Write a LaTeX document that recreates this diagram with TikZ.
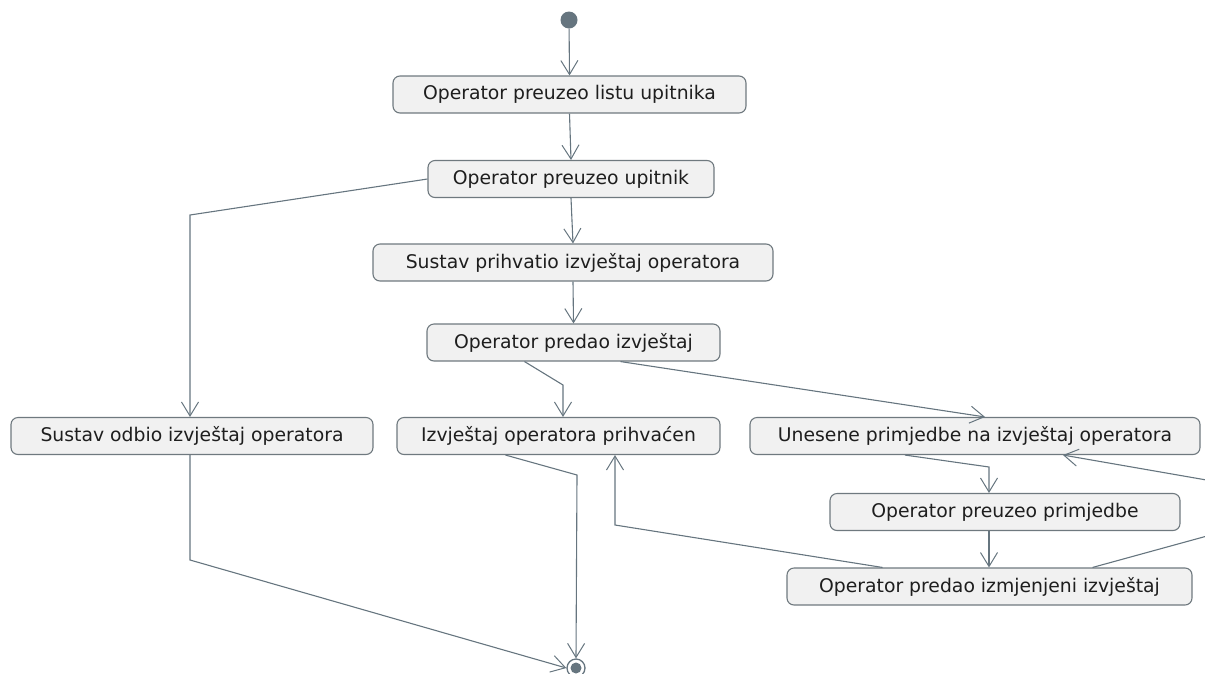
\documentclass[tikz,border=0pt]{standalone}
\usepackage{fontspec}
\setmainfont{DejaVu Sans}
\usetikzlibrary{arrows.meta}
\definecolor{edgecol}{HTML}{66757F}
\definecolor{boxfill}{HTML}{F1F1F1}
\definecolor{boxline}{HTML}{6F797F}
\definecolor{txt}{HTML}{1E1E1E}
\tikzset{
  act/.style={draw=boxline, fill=boxfill, line width=1.1pt, rounded corners=7pt,
    minimum height=37pt, inner sep=0pt, font=\fontsize{18.8}{20}\selectfont, text=txt},
  flow/.style={draw=edgecol, line width=1.1pt, -{Straight Barb[length=14pt,width=17pt,line width=1pt]}},
}
\begin{document}
\begin{tikzpicture}[x=1pt,y=-1pt]
\useasboundingbox (0,0) rectangle (1205,673);
\clip (0,0) rectangle (1205,673);
\node[circle, fill=edgecol, minimum size=17pt, inner sep=0pt] (init) at (569,20) {};
\node[act, minimum width=353pt] (b1) at (569.5,94.5) {Operator preuzeo listu upitnika};
\node[act, minimum width=286pt] (b2) at (571,179) {Operator preuzeo upitnik};
\node[act, minimum width=400pt] (b3) at (573,262.5) {Sustav prihvatio izvještaj operatora};
\node[act, minimum width=293pt] (b4) at (573.5,342.5) {Operator predao izvještaj};
\node[act, minimum width=362pt] (b5) at (192,436) {Sustav odbio izvještaj operatora};
\node[act, minimum width=323pt] (b6) at (558.5,436) {Izvještaj operatora prihvaćen};
\node[act, minimum width=450pt] (b7) at (975,436) {Unesene primjedbe na izvještaj operatora};
\node[act, minimum width=350pt] (b8) at (1005,512) {Operator preuzeo primjedbe};
\node[act, minimum width=405pt] (b9) at (989.5,586.5) {Operator predao izmjenjeni izvještaj};
\node[circle, draw=edgecol, line width=1.3pt, fill=white, minimum size=18pt, inner sep=0pt] (fin) at (576,668) {};
\fill[edgecol] (fin.center) circle (5.5pt);
% coordinates for bends
\coordinate (k1) at (190,215);
\coordinate (k2) at (563,385);
\coordinate (k3) at (989,467);
\coordinate (k4) at (615,525);
\coordinate (k5) at (1218,533);
\coordinate (k6) at (1218,482);
\coordinate (k7) at (577,475);
\coordinate (k8) at (190,560);
% edges
\draw[flow] (init) -- (b1.north);
\draw[flow] (b1.south) -- (b2.north);
\draw[flow] (b2.west) -- (k1) -- (k1 |- b5.north);
\draw[flow] (b2.south) -- (b3.north);
\draw[flow] (b3.south) -- (b4.north);
\draw[flow] ([xshift=-49pt]b4.south) -- (k2) -- (k2 |- b6.north);
\draw[flow] ([xshift=47pt]b4.south) -- ([xshift=10pt]b7.north);
\draw[flow] ([xshift=-70pt]b7.south) -- (k3) -- (k3 |- b8.north);
\draw[flow] (b8.south -| k3) -- (k3 |- b9.north);
\draw[flow] ([xshift=-107pt]b9.north) -- (k4) -- (k4 |- b6.south);
\draw[flow] ([xshift=103pt]b9.north) -- (k5) -- (k6) -- ([xshift=88pt]b7.south);
\draw[flow] ([xshift=-53pt]b6.south) -- (k7) -- (fin.north);
\draw[flow] (b5.south -| k8) -- (k8) -- (fin.west);
\end{tikzpicture}
\end{document}
